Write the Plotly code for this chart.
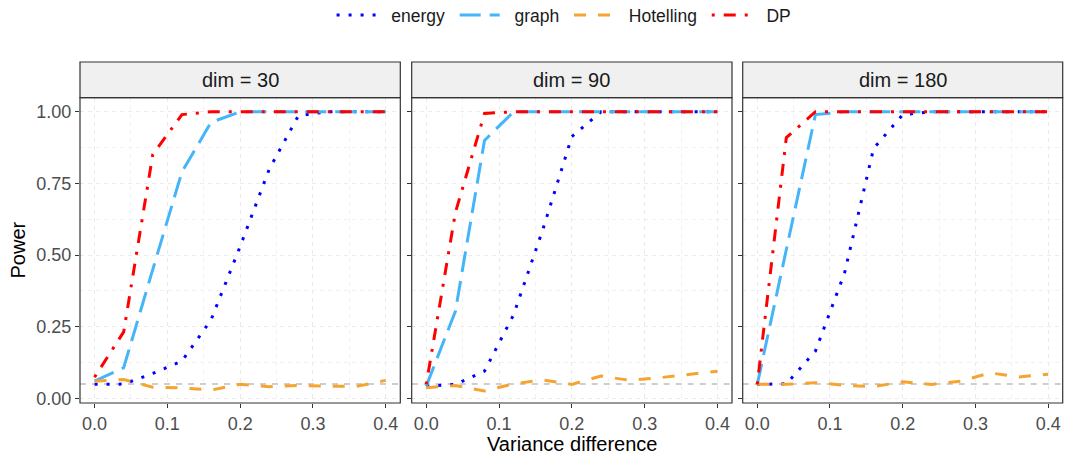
import plotly.graph_objects as go

x_vals = [0, 0.04, 0.08, 0.12, 0.16, 0.2, 0.24, 0.28, 0.32, 0.36, 0.4]
dims = ["dim = 30", "dim = 90", "dim = 180"]

energy_30 = [0.049, 0.050, 0.087, 0.130, 0.274, 0.530, 0.800, 0.986, 1, 1, 1]
graph_30 = [0.060, 0.107, 0.450, 0.790, 0.963, 1, 1, 1, 1, 1, 1]
hotelling_30 = [0.060, 0.066, 0.039, 0.037, 0.029, 0.049, 0.041, 0.045, 0.043, 0.042, 0.063]
dp_30 = [0.074, 0.232, 0.851, 0.990, 1, 1, 1, 1, 1, 1, 1]

energy_90 = [0.043, 0.049, 0.095, 0.292, 0.588, 0.913, 1, 1, 1, 1, 1]
graph_90 = [0.043, 0.304, 0.900, 1, 1, 1, 1, 1, 1, 1, 1]
hotelling_90 = [0.037, 0.045, 0.026, 0.051, 0.064, 0.049, 0.078, 0.063, 0.072, 0.084, 0.095]
dp_90 = [0.049, 0.648, 0.994, 1, 1, 1, 1, 1, 1, 1, 1]

energy_180 = [0.049, 0.051, 0.165, 0.437, 0.872, 0.990, 1, 1, 1, 1, 1]
graph_180 = [0.049, 0.520, 0.990, 1, 1, 1, 1, 1, 1, 1, 1]
hotelling_180 = [0.049, 0.049, 0.055, 0.046, 0.041, 0.058, 0.049, 0.060, 0.089, 0.075, 0.084]
dp_180 = [0.049, 0.910, 1, 1, 1, 1, 1, 1, 1, 1, 1]

nominal_level = 0.05

series_names = ["energy", "graph", "Hotelling", "DP"]
panel_data = [
    [energy_30, graph_30, hotelling_30, dp_30],
    [energy_90, graph_90, hotelling_90, dp_90],
    [energy_180, graph_180, hotelling_180, dp_180],
]

lw = 3
styles = {
    "energy": dict(color="#0000FF", dash="3px,9px"),
    "graph": dict(color="#45B5FA", dash="21px,9px"),
    "Hotelling": dict(color="#F5A432", dash="12px,12px"),
    "DP": dict(color="#FF0000", dash="3px,9px,12px,9px"),
}

W, H = 1075, 456
ml, mr, mt, mb = 80, 12, 62, 53
pw = W - ml - mr
ph = H - mt - mb
panel_px = [(79.5, 400.3), (411.7, 732.0), (742.7, 1062.7)]
domains = [[max(0.0, (a - ml) / pw), min(1.0, (b - ml) / pw)] for a, b in panel_px]
plot_top_px = 97.7
plot_bot_px = 403.0
ydom = [max(0.0, (H - mb - plot_bot_px) / ph), (H - mb - plot_top_px) / ph]
strip_top = 1.0

fig = go.Figure()
font_family = "Liberation Sans, Arial, sans-serif"
NB = "\u00a0"

for i, data in enumerate(panel_data):
    xa = "x" if i == 0 else f"x{i+1}"
    ya = "y" if i == 0 else f"y{i+1}"
    fig.add_trace(go.Scatter(
        x=[x_vals[0] - 0.02, x_vals[-1] + 0.02], y=[nominal_level, nominal_level],
        mode="lines", line=dict(color="#BEBEBE", width=1.5, dash="6px,6px"),
        showlegend=False, hoverinfo="skip", xaxis=xa, yaxis=ya))
    for name, yv in zip(series_names, data):
        st = styles[name]
        fig.add_trace(go.Scatter(
            x=x_vals, y=yv, mode="lines", name=NB * 2 + name + NB,
            line=dict(color=st["color"], width=lw, dash=st["dash"]),
            legendgroup=name, showlegend=(i == 0),
            xaxis=xa, yaxis=ya))

axis_common = dict(
    showline=False, mirror=False, zeroline=False, automargin=False,
    ticks="outside", ticklen=4, tickwidth=1.1, tickcolor="#333333",
    tickfont=dict(family=font_family, size=18, color="#4D4D4D"),
    showgrid=True, gridcolor="#EBEBEB", gridwidth=1, griddash="4px,4px",
)

layout = dict(
    width=W, height=H,
    margin=dict(l=ml, r=mr, t=mt, b=mb, pad=0, autoexpand=False),
    paper_bgcolor="white", plot_bgcolor="white",
    font=dict(family=font_family, color="#1A1A1A"),
    legend=dict(orientation="h", x=0.495, xanchor="center",
                yref="container", y=1 - 15 / H,
                yanchor="middle", font=dict(size=17.5, color="#1A1A1A"),
                itemwidth=40, bgcolor="rgba(0,0,0,0)", traceorder="normal"),
    shapes=[], annotations=[],
)

for i in range(3):
    sx = "" if i == 0 else str(i + 1)
    layout[f"xaxis{sx}"] = dict(
        axis_common, domain=domains[i], range=[-0.02, 0.42], anchor=f"y{sx}",
        tickvals=[0, 0.1, 0.2, 0.3, 0.4], ticktext=["0.0", "0.1", "0.2", "0.3", "0.4"],
        minor=dict(tickvals=[0.05, 0.15, 0.25, 0.35], showgrid=True,
                   gridcolor="#F2F2F2", griddash="4px,4px", gridwidth=1, ticks=""),
    )
    layout[f"yaxis{sx}"] = dict(
        axis_common, domain=ydom, range=[-0.016, 1.049], anchor=f"x{sx}",
        tickvals=[0, 0.25, 0.5, 0.75, 1.0],
        ticktext=["0.00", "0.25", "0.50", "0.75", "1.00"],
        showticklabels=(i == 0),
        minor=dict(tickvals=[0.125, 0.375, 0.625, 0.875], showgrid=True,
                   gridcolor="#F2F2F2", griddash="4px,4px", gridwidth=1, ticks=""),
    )
    layout["shapes"].append(dict(
        type="rect", xref=f"x{sx} domain", yref=f"y{sx} domain",
        x0=0, x1=1, y0=0, y1=1, line=dict(color="#333333", width=1.2),
        fillcolor="rgba(0,0,0,0)", layer="above"))
    layout["shapes"].append(dict(
        type="rect", xref=f"x{sx} domain", yref="paper",
        x0=0, x1=1, y0=ydom[1], y1=strip_top, line=dict(color="#333333", width=1.2),
        fillcolor="#F0F0F0", layer="above"))
    layout["annotations"].append(dict(
        text=dims[i], xref=f"x{sx} domain", yref="paper", x=0.5,
        y=(ydom[1] + strip_top) / 2, xanchor="center", yanchor="middle",
        showarrow=False, font=dict(size=20, color="#1A1A1A", family=font_family)))

layout["annotations"].append(dict(
    text="Variance difference", xref="paper", yref="paper",
    x=0.5, y=(H - mb - 444) / ph, xanchor="center", yanchor="middle",
    showarrow=False, font=dict(size=20, color="#000000", family=font_family)))
layout["annotations"].append(dict(
    text="Power", xref="paper", yref="paper", textangle=-90,
    x=(18 - ml) / pw, y=(H - mb - 250.5) / ph, xanchor="center", yanchor="middle",
    showarrow=False, font=dict(size=20, color="#000000", family=font_family)))

fig.update_layout(**layout)
fig.write_html("out.html", config={"displayModeBar": False},
               post_script="document.body.style.margin='0px';")
